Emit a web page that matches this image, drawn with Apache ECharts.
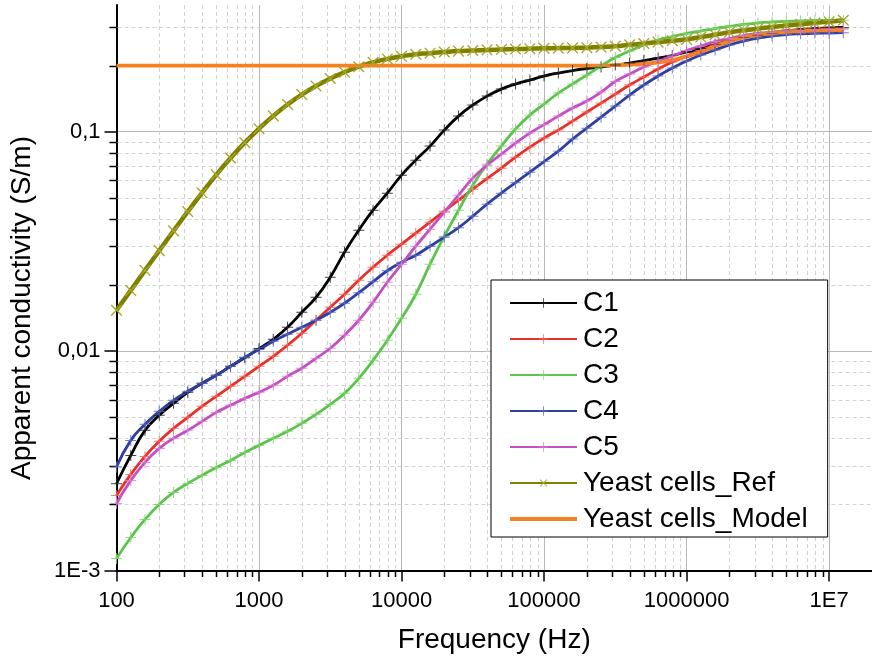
<!DOCTYPE html>
<html><head><meta charset="utf-8">
<script src="https://cdn.jsdelivr.net/npm/echarts@6/dist/echarts.min.js"></script>
<style>html,body{margin:0;padding:0;background:#fff}#chart{width:872px;height:663px}</style>
</head><body><div id="chart"></div>
<script>
// Frequency (Hz), 10 points per decade
const frequency = [100, 125.9, 158.5, 199.5, 251.2, 316.2, 398.1, 501.2, 631, 794.3,
  1000, 1259, 1585, 1995, 2512, 3162, 3981, 5012, 6310, 7943,
  10000, 12589, 15849, 19953, 25119, 31623, 39811, 50119, 63096, 79433,
  100000, 125893, 158489, 199526, 251189, 316228, 398107, 501187, 630957, 794328,
  1000000, 1258925, 1584893, 1995262, 2511886, 3162278, 3981072, 5011872, 6309573, 7943282,
  10000000, 12589254];

const c1 = [0.002486, 0.003347, 0.004353, 0.005095, 0.005779, 0.006486, 0.007129, 0.007757, 0.008527, 0.009320,
  0.01027, 0.01132, 0.01284, 0.01503, 0.01759, 0.02172, 0.02823, 0.03557, 0.04387, 0.05248,
  0.06339, 0.07420, 0.08598, 0.1017, 0.1178, 0.1322, 0.1453, 0.1564, 0.1649, 0.1719,
  0.1793, 0.1851, 0.1900, 0.1941, 0.1972, 0.2013, 0.2056, 0.2111, 0.2167, 0.2225,
  0.2308, 0.2394, 0.2497, 0.2604, 0.2688, 0.2759, 0.2818, 0.2877, 0.2923, 0.2953,
  0.2969, 0.2985];

const c2 = [0.002199, 0.002742, 0.003312, 0.003878, 0.004444, 0.004989, 0.005600, 0.006220, 0.006910, 0.007674,
  0.008527, 0.009469, 0.01063, 0.01206, 0.01382, 0.01585, 0.01816, 0.02104, 0.02411, 0.02735,
  0.03070, 0.03446, 0.03868, 0.04342, 0.04875, 0.05471, 0.06109, 0.06822, 0.07657, 0.08507,
  0.09350, 0.1017, 0.1118, 0.1229, 0.1350, 0.1484, 0.1632, 0.1774, 0.1930, 0.2077,
  0.2213, 0.2344, 0.2484, 0.2604, 0.2702, 0.2773, 0.2833, 0.2877, 0.2907, 0.2929,
  0.2944, 0.2960];

const c3 = [0.001134, 0.001414, 0.001709, 0.002000, 0.002269, 0.002494, 0.002713, 0.002951, 0.003175, 0.003454,
  0.003718, 0.004002, 0.004307, 0.004685, 0.005149, 0.005719, 0.006419, 0.007514, 0.009078, 0.01120,
  0.01411, 0.01816, 0.02489, 0.03339, 0.04387, 0.05707, 0.07116, 0.08598, 0.1028, 0.1190,
  0.1336, 0.1500, 0.1649, 0.1812, 0.1993, 0.2178, 0.2332, 0.2484, 0.2618, 0.2716,
  0.2803, 0.2877, 0.2953, 0.3017, 0.3081, 0.3129, 0.3162, 0.3186, 0.3203, 0.3213,
  0.3220, 0.3220];

const c4 = [0.002961, 0.003918, 0.004636, 0.005313, 0.005964, 0.006557, 0.007129, 0.007757, 0.008527, 0.009369,
  0.01016, 0.01108, 0.01193, 0.01284, 0.01382, 0.01503, 0.01652, 0.01845, 0.02071, 0.02324,
  0.02542, 0.02735, 0.03007, 0.03305, 0.03651, 0.04121, 0.04674, 0.05248, 0.05859, 0.06542,
  0.07305, 0.08156, 0.09252, 0.1038, 0.1165, 0.1308, 0.1469, 0.1632, 0.1793, 0.1951,
  0.2099, 0.2236, 0.2357, 0.2484, 0.2590, 0.2673, 0.2729, 0.2773, 0.2795, 0.2810,
  0.2818, 0.2828];

const c5 = [0.002021, 0.002574, 0.003110, 0.003601, 0.004002, 0.004353, 0.004783, 0.005257, 0.005658, 0.006089,
  0.006486, 0.006982, 0.007674, 0.008348, 0.009273, 0.01030, 0.01181, 0.01382, 0.01669, 0.02060,
  0.02489, 0.03007, 0.03595, 0.04296, 0.05139, 0.06142, 0.07041, 0.07902, 0.08872, 0.09854,
  0.1077, 0.1178, 0.1281, 0.1379, 0.1516, 0.1693, 0.1831, 0.1972, 0.2099, 0.2213,
  0.2344, 0.2458, 0.2577, 0.2659, 0.2744, 0.2803, 0.2838, 0.2868, 0.2892, 0.2907,
  0.2920, 0.2929];

const yeastRef = [0.01535, 0.01891, 0.02334, 0.02871, 0.03531, 0.04324, 0.05265, 0.06359, 0.07586, 0.08918,
  0.1032, 0.1181, 0.1330, 0.1477, 0.1616, 0.1747, 0.1868, 0.1978, 0.2071, 0.2146,
  0.2206, 0.2255, 0.228, 0.2307, 0.233, 0.2344, 0.236, 0.237, 0.238, 0.239,
  0.24, 0.2404, 0.241, 0.2415, 0.243, 0.2455, 0.249, 0.2523, 0.256, 0.26,
  0.2636, 0.27, 0.2767, 0.2838, 0.2897, 0.295, 0.2999, 0.3048, 0.309, 0.3133,
  0.317, 0.322];

const yeastModel = [0.2, 0.2, 0.2, 0.2, 0.2, 0.2, 0.2, 0.2, 0.2, 0.2,
  0.2, 0.2, 0.2, 0.2, 0.2, 0.2, 0.2, 0.2, 0.2, 0.2,
  0.2, 0.2, 0.2, 0.2, 0.2, 0.2, 0.2, 0.2, 0.2, 0.2,
  0.2, 0.2, 0.2, 0.2, 0.2, 0.201, 0.202, 0.204, 0.207, 0.212,
  0.22, 0.231, 0.245, 0.258, 0.269, 0.276, 0.281, 0.285, 0.287, 0.289,
  0.29, 0.291];

const seriesNames = ['C1', 'C2', 'C3', 'C4', 'C5', 'Yeast cells_Ref', 'Yeast cells_Model'];

const xTickValues = [100, 1000, 10000, 100000, 1000000, 10000000];
const xTickLabels = ['100', '1000', '10000', '100000', '1000000', '1E7'];
const yTickValues = [0.001, 0.01, 0.1];
const yTickLabels = ['1E-3', '0,01', '0,1'];
const xMinorTicks = [200, 300, 400, 500, 600, 700, 800, 900,
  2000, 3000, 4000, 5000, 6000, 7000, 8000, 9000,
  20000, 30000, 40000, 50000, 60000, 70000, 80000, 90000,
  200000, 300000, 400000, 500000, 600000, 700000, 800000, 900000,
  2000000, 3000000, 4000000, 5000000, 6000000, 7000000, 8000000, 9000000];
const yMinorTicks = [0.002, 0.003, 0.004, 0.005, 0.006, 0.007, 0.008, 0.009,
  0.02, 0.03, 0.04, 0.05, 0.06, 0.07, 0.08, 0.09, 0.2, 0.3];

const xMin = 100, xMax = 2e7, yMin = 0.001, yMax = 0.378;
const FONT = '"Liberation Sans", Arial, sans-serif';

function labelFor(values, labels) {
  return function (v) {
    for (let i = 0; i < values.length; i++) {
      if (Math.abs(v - values[i]) / values[i] < 1e-6) return labels[i];
    }
    return '';
  };
}

const PLUS = 'path://M-0.09,-1H0.09V-0.09H1V0.09H0.09V1H-0.09V0.09H-1V-0.09H-0.09Z';
const LINE_ICON = 'path://M0,0H67V4H0Z';

function pairs(arr) { return frequency.map((f, i) => [f, arr[i]]); }

function lineSeries(name, arr, color, markColor, opts) {
  return Object.assign({
    name: name, type: 'line', data: pairs(arr),
    symbol: PLUS, symbolSize: 11, showSymbol: true,
    smooth: 0.5,
    lineStyle: { color: color, width: 2.8 },
    itemStyle: { color: markColor, opacity: 0.85 },
    emphasis: { disabled: true },
    z: 3
  }, opts || {});
}

const chart = echarts.init(document.getElementById('chart'), null, { renderer: 'canvas' });

const option = {
  animation: false,
  backgroundColor: '#fff',
  textStyle: { fontFamily: FONT },
  grid: { left: 116.5, right: 0, top: 5, bottom: 92.5 },
  xAxis: {
    type: 'log', logBase: 10, min: xMin, max: xMax,
    name: 'Frequency (Hz)', nameLocation: 'middle', nameGap: 56,
    nameTextStyle: { fontSize: 28, color: '#000', fontFamily: FONT },
    axisLine: { show: true, onZero: false, lineStyle: { color: '#000', width: 2 } },
    axisTick: { show: true, inside: false, length: 11, lineStyle: { color: '#000', width: 1.5 }, customValues: xTickValues },
    axisLabel: { show: true, margin: 19, fontSize: 22, color: '#000', fontFamily: FONT,
      formatter: labelFor(xTickValues, xTickLabels), customValues: xTickValues },
    splitLine: { show: true, lineStyle: { color: '#b8b8b8', width: 1 } },
    minorTick: { show: false }, minorSplitLine: { show: false }
  },
  yAxis: {
    type: 'log', logBase: 10, min: yMin, max: yMax,
    axisLine: { show: true, onZero: false, lineStyle: { color: '#000', width: 2 } },
    axisTick: { show: true, inside: false, length: 12, lineStyle: { color: '#000', width: 1.5 }, customValues: yTickValues },
    axisLabel: { show: true, margin: 16, fontSize: 22, color: '#000', fontFamily: FONT,
      formatter: labelFor(yTickValues, yTickLabels), customValues: yTickValues },
    splitLine: { show: true, lineStyle: { color: '#b8b8b8', width: 1 } },
    minorTick: { show: false }, minorSplitLine: { show: false }
  },
  legend: {
    orient: 'vertical', left: 491, top: 280,
    data: seriesNames.slice(0, 6).concat([{ name: seriesNames[6], icon: LINE_ICON, itemStyle: { color: '#f5821f', opacity: 1 } }]),
    itemWidth: 67, itemHeight: 12, itemGap: 8,
    padding: [9, 20, 4, 18],
    borderColor: '#000', borderWidth: 1, borderRadius: 0, backgroundColor: '#fff',
    textStyle: { fontSize: 28, color: '#000', fontFamily: FONT, padding: [0, 0, 0, 1] },
    selectedMode: false
  },
  graphic: [{
    type: 'text', x: 22, y: 308, rotation: Math.PI / 2, silent: true,
    style: { text: 'Apparent conductivity (S/m)', fontSize: 28, fontFamily: FONT, fill: '#000',
      align: 'center', verticalAlign: 'middle' }
  }],
  series: [
    {
      type: 'custom', coordinateSystem: 'cartesian2d', silent: true, z: 1, clip: false,
      data: xMinorTicks.map(v => [v, yMin]),
      renderItem: function (params, api) {
        const v = api.value(0);
        const top = api.coord([v, yMax]);
        const bot = api.coord([v, yMin]);
        const x = Math.round(bot[0]) + 0.5;
        return { type: 'group', children: [
          { type: 'line', shape: { x1: x, y1: top[1], x2: x, y2: bot[1] - 1 }, style: { stroke: '#d2d2d2', lineWidth: 1, lineDash: [4, 3] } },
          { type: 'line', shape: { x1: x, y1: bot[1], x2: x, y2: bot[1] + 6.5 }, style: { stroke: '#000', lineWidth: 1.5 } }
        ] };
      }
    },
    {
      type: 'custom', coordinateSystem: 'cartesian2d', silent: true, z: 1, clip: false,
      data: yMinorTicks.map(v => [xMin, v]),
      renderItem: function (params, api) {
        const v = api.value(1);
        const l = api.coord([xMin, v]);
        const r = api.coord([xMax, v]);
        const y = Math.round(l[1]) + 0.5;
        return { type: 'group', children: [
          { type: 'line', shape: { x1: l[0] + 1, y1: y, x2: r[0], y2: y }, style: { stroke: '#d2d2d2', lineWidth: 1, lineDash: [4, 3] } },
          { type: 'line', shape: { x1: l[0] - 7, y1: y, x2: l[0], y2: y }, style: { stroke: '#000', lineWidth: 1.5 } }
        ] };
      }
    },
    lineSeries('C1', c1, '#000000', '#222222'),
    lineSeries('C2', c2, '#e8302a', '#f06a5e'),
    lineSeries('C3', c3, '#5cc44c', '#80d470'),
    lineSeries('C4', c4, '#2f3fa0', '#5a6ac4'),
    lineSeries('C5', c5, '#c44fc2', '#d680d4'),
    lineSeries('Yeast cells_Ref', yeastRef, '#808000', '#a6a62a', {
      symbolRotate: 45, symbolSize: 15,
      lineStyle: { color: '#808000', width: 4.5 },
      itemStyle: { color: '#a6a62a', opacity: 1 }
    }),
    lineSeries('Yeast cells_Model', yeastModel, '#f5821f', '#f5821f', {
      symbol: 'none', showSymbol: false,
      lineStyle: { color: '#f5821f', width: 3.8 }
    })
  ]
};
chart.setOption(option);
</script>
</body></html>
